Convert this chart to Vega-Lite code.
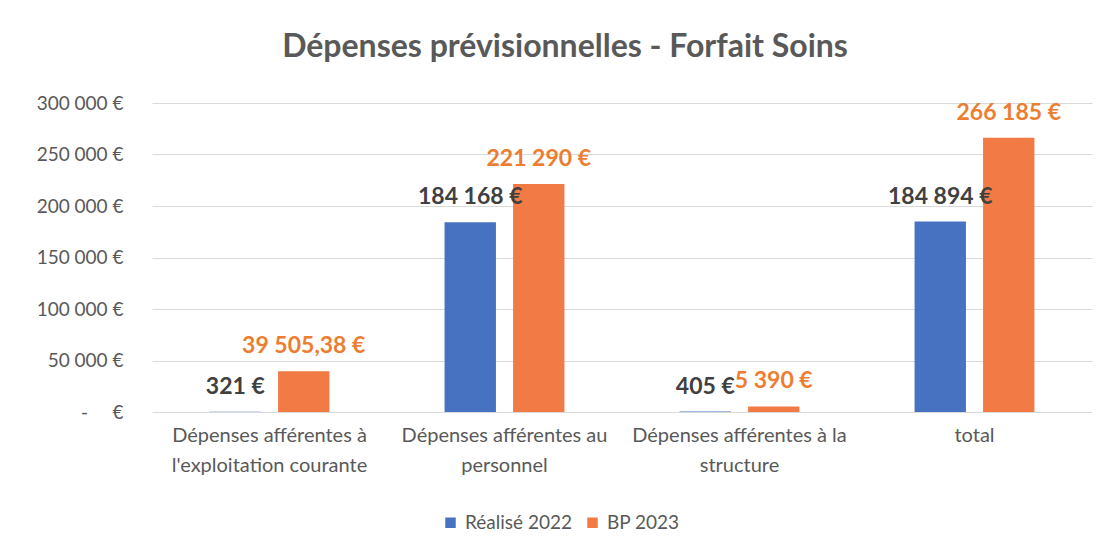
{
  "$schema": "https://vega.github.io/schema/vega-lite/v6.json",
  "width": 940,
  "height": 309,
  "autosize": "none",
  "padding": {"left": 152, "top": 103, "right": 18, "bottom": 139},
  "background": "white",
  "title": {
    "text": "Dépenses prévisionnelles - Forfait Soins",
    "font": "Lato",
    "fontSize": 32,
    "fontWeight": "bold",
    "color": "#595959",
    "anchor": "middle",
    "dx": -57,
    "offset": 30
  },
  "data": {
    "values": [
      {"cat": "Dépenses afférentes à\nl'exploitation courante", "series": "Réalisé 2022", "value": 321, "label": "321 €"},
      {"cat": "Dépenses afférentes à\nl'exploitation courante", "series": "BP 2023", "value": 39505.38, "label": "39 505,38 €"},
      {"cat": "Dépenses afférentes au\npersonnel", "series": "Réalisé 2022", "value": 184168, "label": "184 168 €"},
      {"cat": "Dépenses afférentes au\npersonnel", "series": "BP 2023", "value": 221290, "label": "221 290 €"},
      {"cat": "Dépenses afférentes à la\nstructure", "series": "Réalisé 2022", "value": 405, "label": "405 €"},
      {"cat": "Dépenses afférentes à la\nstructure", "series": "BP 2023", "value": 5390, "label": "5 390 €"},
      {"cat": "total", "series": "Réalisé 2022", "value": 184894, "label": "184 894 €"},
      {"cat": "total", "series": "BP 2023", "value": 266185, "label": "266 185 €"}
    ]
  },
  "encoding": {
    "x": {
      "field": "cat",
      "type": "nominal",
      "sort": null,
      "scale": {"paddingInner": 0.49, "paddingOuter": 0.245},
      "axis": {
        "title": null,
        "labelAngle": 0,
        "labelExpr": "split(datum.label, '\\n')",
        "labelFont": "Lato",
        "labelFontSize": 20,
        "labelColor": "#595959",
        "labelLineHeight": 30,
        "labelPadding": 13,
        "labelLimit": 300,
        "domain": false,
        "ticks": false
      }
    },
    "xOffset": {
      "field": "series",
      "type": "nominal",
      "sort": ["Réalisé 2022", "BP 2023"],
      "scale": {"paddingInner": 0.25, "paddingOuter": 0}
    },
    "y": {
      "field": "value",
      "type": "quantitative",
      "scale": {"domain": [0, 300000]},
      "axis": {
        "title": null,
        "values": [0, 50000, 100000, 150000, 200000, 250000, 300000],
        "labelExpr": "datum.value === 0 ? '-\u00a0\u00a0\u00a0\u00a0\u00a0€' : replace(format(datum.value, ',.0f'), ',', '\u00a0') + '\u00a0€'",
        "labelFont": "Lato",
        "labelFontSize": 19,
        "labelColor": "#595959",
        "labelPadding": 29,
        "domain": false,
        "ticks": false,
        "gridColor": "#D9D9D9",
        "gridWidth": 1
      }
    }
  },
  "layer": [
    {
      "mark": {"type": "bar"},
      "encoding": {
        "color": {
          "field": "series",
          "type": "nominal",
          "sort": ["Réalisé 2022", "BP 2023"],
          "scale": {"domain": ["Réalisé 2022", "BP 2023"], "range": ["#4672C1", "#F27B45"]},
          "legend": {
            "title": null,
            "orient": "none",
            "direction": "horizontal",
            "legendX": 289,
            "legendY": 410,
            "symbolType": "square",
            "symbolSize": 110,
            "labelFont": "Lato",
            "labelFontSize": 19,
            "labelColor": "#595959",
            "labelOffset": 5,
            "columnPadding": 10,
            "symbolOffset": 0
          }
        }
      }
    },
    {
      "mark": {"type": "text", "dy": -25, "font": "Lato", "fontSize": 23, "fontWeight": "bold"},
      "encoding": {
        "text": {"field": "label", "type": "nominal"},
        "color": {
          "condition": {"test": "datum.series === 'Réalisé 2022'", "value": "#404040"},
          "value": "#ED7D31"
        }
      }
    }
  ],
  "config": {
    "view": {"stroke": null}
  }
}
